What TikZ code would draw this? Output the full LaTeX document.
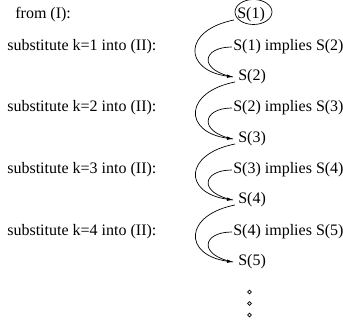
\documentclass[tikz,border=0pt]{standalone}
\usepackage{fontspec}
\setmainfont{Liberation Serif}
\usetikzlibrary{arrows.meta}
\begin{document}
\begin{tikzpicture}[x=1pt,y=1pt,line width=0.7pt,
  txt/.style={anchor=west,inner sep=0pt,font=\fontsize{16}{19}\selectfont},
  outer/.style={-{Latex[length=6pt,width=3.6pt]}},
  ring/.style={circle,draw,inner sep=0pt,minimum size=3.8pt,line width=0.8pt}]
\useasboundingbox (0,0) rectangle (343,-320);

% left column
\node[txt] (from) at (15,-15) {from (I):};
\node[txt] (k1) at (7,-47) {substitute k=1 into (II):};
\node[txt] (k2) at (7,-108) {substitute k=2 into (II):};
\node[txt] (k3) at (7,-170) {substitute k=3 into (II):};
\node[txt] (k4) at (7,-232) {substitute k=4 into (II):};

% statements
\node[txt] (s1) at (237,-15) {S(1)};
\node[txt] (i2) at (233,-47) {S(1) implies S(2)};
\node[txt] (s2) at (238,-77) {S(2)};
\node[txt] (i3) at (233,-108) {S(2) implies S(3)};
\node[txt] (s3) at (238,-139) {S(3)};
\node[txt] (i4) at (233,-170) {S(3) implies S(4)};
\node[txt] (s4) at (238,-200) {S(4)};
\node[txt] (i5) at (233,-232) {S(4) implies S(5)};
\node[txt] (s5) at (238,-262) {S(5)};

% ring around the base case
\draw (253.5,-12) ellipse (18.5 and 12.5);

% modus ponens steps
\foreach \a/\i/\b in {s1/i2/s2, s2/i3/s3, s3/i4/s4, s4/i5/s5}{
  \draw[outer] ([xshift=-3pt,yshift=-5pt]\a.west)
     .. controls +(-51,-10) and +(-50,7) .. ([xshift=-5pt]\b.west);
  \draw ([xshift=-1pt]\i.west)
     .. controls +(-30,0) and +(-35,7) .. ([xshift=-5pt]\b.west);
}

% continuation dots
\node[ring] (d1) at (249.5,-292) {};
\node[ring] (d2) at (249.5,-303.5) {};
\node[ring] (d3) at (249.5,-315) {};
\end{tikzpicture}
\end{document}
